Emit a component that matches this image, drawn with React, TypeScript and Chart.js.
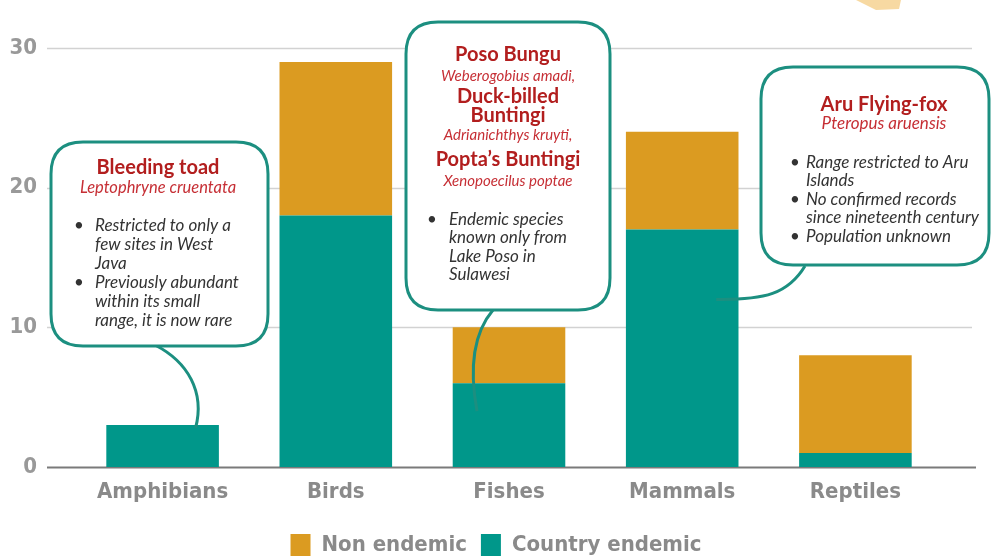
import React, { useEffect, useRef } from "react";
import { Chart, registerables } from "chart.js";
Chart.register(...registerables);

const categories = ["Amphibians", "Birds", "Fishes", "Mammals", "Reptiles"];
const countryEndemic = [3, 18, 6, 17, 1];
const nonEndemic = [0, 11, 4, 7, 7];
const seriesNames = ["Country endemic", "Non endemic"];
const yTickValues = [0, 10, 20, 30];

const toadText = ["Bleeding toad", "Leptophryne cruentata", "Restricted to only a", "few sites in West", "Java", "Previously abundant", "within its small", "range, it is now rare"];
const fishText = ["Poso Bungu", "Weberogobius amadi,", "Duck-billed", "Buntingi", "Adrianichthys kruyti,", "Popta\u2019s Buntingi", "Xenopoecilus poptae", "Endemic species", "known only from", "Lake Poso in", "Sulawesi"];
const foxText = ["Aru Flying-fox", "Pteropus aruensis", "Range restricted to Aru", "Islands", "No confirmed records", "since nineteenth century", "Population unknown"];

const ORANGE = "#DB9B21";
const TEAL = "#00978A";
const BORDER = "#1C8F80";
const AXISFONT = '"Liberation Sans Narrow", "DejaVu Sans Condensed", Roboto, sans-serif';
const BOXFONT = 'Lato, "Open Sans", sans-serif';

type Style = "title" | "species" | "bullet" | "cont";

const callouts = [
  {
    text: toadText,
    styles: ["title", "species", "bullet", "cont", "cont", "bullet", "cont", "cont"] as Style[],
    ys: [168, 188, 226, 245, 264, 283, 302, 321],
    box: { x: 51, y: 142, w: 217, h: 204 },
    cx: 158, dotX: 77, textX: 95, speciesSize: 16.5,
    tail: { sx: 155, sy: 345, c1x: 188, c1y: 362, c2x: 205, c2y: 392, cat: 0, dx: 33, val: 2.8 },
  },
  {
    text: fishText,
    styles: ["title", "species", "title", "title", "species", "title", "species", "bullet", "cont", "cont", "cont"] as Style[],
    ys: [55, 76, 97, 116, 135, 160, 181, 220, 238, 257, 275],
    box: { x: 406, y: 22, w: 204, h: 288 },
    cx: 508, dotX: 430, textX: 449, speciesSize: 15,
    tail: { sx: 493, sy: 310, c1x: 476, c1y: 330, c2x: 468, c2y: 362, cat: 2, dx: -32, val: 4 },
  },
  {
    text: foxText,
    styles: ["title", "species", "bullet", "cont", "bullet", "cont", "bullet"] as Style[],
    ys: [105, 124, 163, 181, 200, 218, 237],
    box: { x: 761, y: 67, w: 228, h: 198 },
    cx: 884, dotX: 793, textX: 806, speciesSize: 17,
    tail: { sx: 805, sy: 266, c1x: 788, c1y: 294, c2x: 765, c2y: 300, cat: 3, dx: 34, val: 12 },
  },
];

function roundRect(ctx: CanvasRenderingContext2D, x: number, y: number, w: number, h: number, r: number) {
  ctx.beginPath();
  ctx.moveTo(x + r, y);
  ctx.lineTo(x + w - r, y);
  ctx.quadraticCurveTo(x + w, y, x + w, y + r);
  ctx.lineTo(x + w, y + h - r);
  ctx.quadraticCurveTo(x + w, y + h, x + w - r, y + h);
  ctx.lineTo(x + r, y + h);
  ctx.quadraticCurveTo(x, y + h, x, y + h - r);
  ctx.lineTo(x, y + r);
  ctx.quadraticCurveTo(x, y, x + r, y);
  ctx.closePath();
}

const gridPlugin = {
  id: "customGrid",
  beforeDatasetsDraw(chart: any) {
    const ctx = chart.ctx as CanvasRenderingContext2D;
    const ys = chart.scales.y;
    const { left, right } = chart.chartArea;
    ctx.save();
    ys.ticks.forEach((t: any) => {
      const py = Math.round(ys.getPixelForValue(t.value)) + 0.5;
      ctx.beginPath();
      if (t.value === 0) {
        ctx.strokeStyle = "#7a7a7a";
        ctx.lineWidth = 2;
        ctx.moveTo(left - 29, py);
        ctx.lineTo(right + 34, py);
      } else {
        ctx.strokeStyle = "#d2d2d2";
        ctx.lineWidth = 1.5;
        ctx.moveTo(left - 29, py);
        ctx.lineTo(right + 30, py);
      }
      ctx.stroke();
    });
    ctx.fillStyle = "#F7D9A2";
    ctx.beginPath();
    ctx.moveTo(856, 0);
    ctx.lineTo(901, 0);
    ctx.lineTo(899, 9);
    ctx.lineTo(876, 10);
    ctx.closePath();
    ctx.fill();
    ctx.restore();
  },
};

const calloutPlugin = {
  id: "callouts",
  afterDatasetsDraw(chart: any) {
    const ctx = chart.ctx as CanvasRenderingContext2D;
    const xs = chart.scales.x;
    const ys = chart.scales.y;
    ctx.save();
    callouts.forEach((c) => {
      const t = c.tail;
      const ex = xs.getPixelForValue(t.cat) + t.dx;
      const ey = ys.getPixelForValue(t.val);
      ctx.strokeStyle = BORDER;
      ctx.lineWidth = 3;
      ctx.beginPath();
      ctx.moveTo(t.sx, t.sy);
      ctx.bezierCurveTo(t.c1x, t.c1y, t.c2x, t.c2y, ex, ey);
      ctx.stroke();

      const b = c.box;
      roundRect(ctx, b.x, b.y, b.w, b.h, 32);
      ctx.fillStyle = "#ffffff";
      ctx.fill();
      ctx.lineWidth = 3;
      ctx.strokeStyle = BORDER;
      ctx.stroke();

      ctx.textBaseline = "middle";
      c.text.forEach((line, i) => {
        const st = c.styles[i];
        const yy = c.ys[i];
        if (st === "title") {
          ctx.font = `bold 20px ${BOXFONT}`;
          ctx.fillStyle = "#B21E1E";
          ctx.textAlign = "center";
          ctx.fillText(line, c.cx, yy);
        } else if (st === "species") {
          ctx.font = `italic ${c.speciesSize}px ${BOXFONT}`;
          ctx.fillStyle = "#C62F35";
          ctx.textAlign = "center";
          ctx.fillText(line, c.cx, yy);
        } else {
          ctx.font = `italic 17px ${BOXFONT}`;
          ctx.fillStyle = "#333333";
          ctx.textAlign = "left";
          if (st === "bullet") {
            ctx.fillText("\u2022", c.dotX - 3, yy);
          }
          ctx.fillText(line, c.textX, yy);
        }
      });
    });
    ctx.restore();
  },
};

export default function App() {
  const ref = useRef<HTMLCanvasElement | null>(null);
  useEffect(() => {
    if (!ref.current) return;
    const chart = new Chart(ref.current, {
      type: "bar",
      data: {
        labels: categories,
        datasets: [
          { label: seriesNames[0], data: countryEndemic, backgroundColor: TEAL, borderWidth: 0 },
          { label: seriesNames[1], data: nonEndemic, backgroundColor: ORANGE, borderWidth: 0 },
        ],
      },
      options: {
        animation: false,
        responsive: false,
        layout: { padding: { top: 48, right: 0, left: 0, bottom: 0 } },
        datasets: { bar: { barPercentage: 0.65, categoryPercentage: 1 } },
        scales: {
          x: {
            stacked: true,
            grid: { display: false },
            border: { display: false },
            ticks: { color: "#8a8a8a", padding: 4, font: { family: AXISFONT, size: 22, weight: "bold" } },
            afterFit: (s: any) => { s.height = 53; },
          },
          y: {
            stacked: true,
            min: 0,
            max: 30,
            grid: { display: false, drawTicks: false },
            border: { display: false },
            afterBuildTicks: (s: any) => { s.ticks = yTickValues.map((v) => ({ value: v })); },
            ticks: { color: "#999999", padding: 39, font: { family: AXISFONT, size: 22, weight: "bold" } },
            afterFit: (s: any) => { s.width = 76; s.paddingTop = 0; s.paddingBottom = 0; },
          },
          yRight: {
            position: "right",
            display: true,
            min: 0,
            max: 30,
            grid: { display: false, drawTicks: false },
            border: { display: false },
            ticks: { display: false },
            afterFit: (s: any) => { s.width = 50; s.paddingTop = 0; s.paddingBottom = 0; },
          },
        },
        plugins: {
          legend: {
            position: "bottom",
            reverse: true,
            labels: {
              boxWidth: 20,
              boxHeight: 22,
              padding: 14,
              color: "#8a8a8a",
              font: { family: AXISFONT, size: 22, weight: "bold" },
            },
          },
          tooltip: { enabled: false },
        },
      } as any,
      plugins: [gridPlugin, calloutPlugin],
    });
    return () => chart.destroy();
  }, []);
  return (
    <div style={{ position: "fixed", left: 0, top: 0, width: 992, height: 566, background: "#fff" }}>
      <canvas ref={ref} width={992} height={566} style={{ display: "block" }} />
    </div>
  );
}
